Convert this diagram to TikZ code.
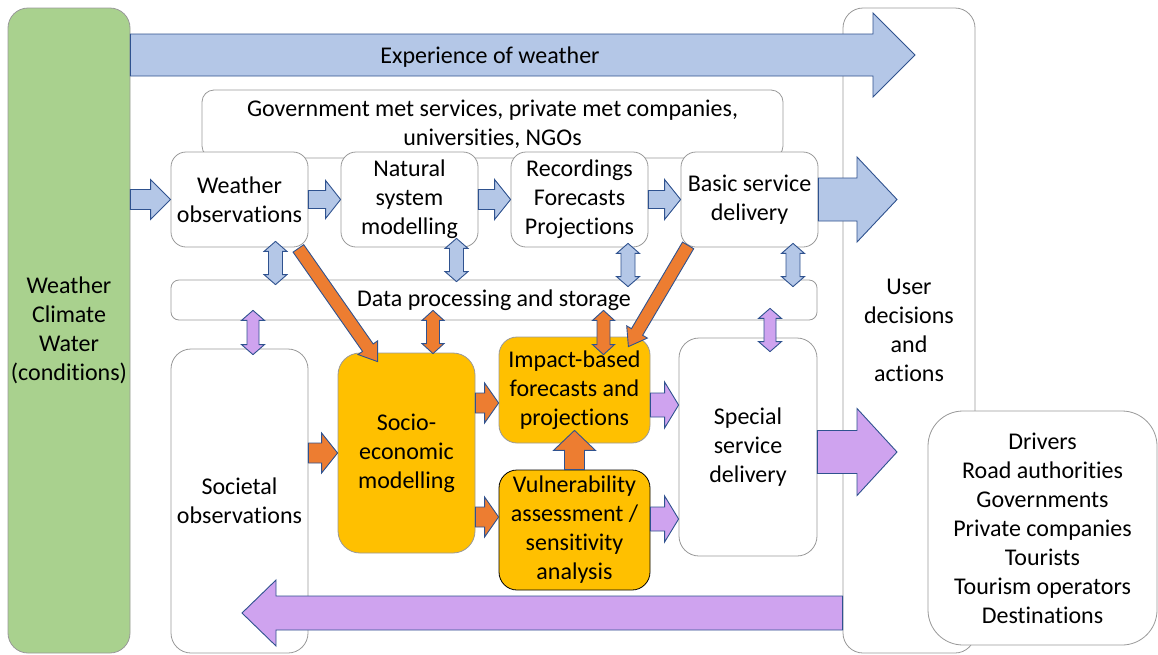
\documentclass[tikz,border=0pt]{standalone}
\usepackage{fontspec}
\setmainfont[Ligatures=NoCommon]{Carlito}
\usepackage{tikz}
\usetikzlibrary{positioning,calc}
\definecolor{wgreen}{HTML}{A9D18E}
\definecolor{bfill}{HTML}{B4C7E7}
\definecolor{ofill}{HTML}{ED7D31}
\definecolor{pfill}{HTML}{CFA3EF}
\definecolor{yfill}{HTML}{FFC000}
\definecolor{aedge}{HTML}{2F528F}
\definecolor{bgray}{HTML}{999999}

\begin{document}
\begin{tikzpicture}[x=1pt, y=-1pt, node distance=170pt, line join=miter,
        font=\fontsize{24}{29}\selectfont,
        box/.style = {draw=bgray, fill=white, line width=0.8pt, align=center, inner sep=0pt,
            rounded corners=15pt, minimum width=137pt, minimum height=95pt},
        hot/.style = {box, fill=yfill},
        sz/.code args = {#1/#2/#3}{\def\aw{#1pt}\def\aW{#2pt}\def\ah{#3pt}},
        blk/.style = {to path={let \p1=(\tikztostart), \p2=(\tikztotarget) in
            ($(\p1)!\aw!90:(\p2)$) -- ($(\p2)!\ah!(\p1)!\aw!-90:(\p1)$)
            -- ($(\p2)!\ah!(\p1)!\aW!-90:(\p1)$) -- (\p2)
            -- ($(\p2)!\ah!(\p1)!\aW!90:(\p1)$) -- ($(\p2)!\ah!(\p1)!\aw!90:(\p1)$)
            -- ($(\p1)!\aw!-90:(\p2)$) -- cycle}},
        dblk/.style = {to path={let \p1=(\tikztostart), \p2=(\tikztotarget) in
            (\p1) -- ($(\p1)!\ah!(\p2)!\aW!-90:(\p2)$) -- ($(\p1)!\ah!(\p2)!\aw!-90:(\p2)$)
            -- ($(\p2)!\ah!(\p1)!\aw!90:(\p1)$) -- ($(\p2)!\ah!(\p1)!\aW!90:(\p1)$)
            -- (\p2) -- ($(\p2)!\ah!(\p1)!\aW!-90:(\p1)$) -- ($(\p2)!\ah!(\p1)!\aw!-90:(\p1)$)
            -- ($(\p1)!\ah!(\p2)!\aw!90:(\p2)$) -- ($(\p1)!\ah!(\p2)!\aW!90:(\p2)$) -- cycle}},
        blu/.style = {fill=bfill, draw=aedge, line width=0.9pt},
        ora/.style = {fill=ofill, draw=aedge, line width=0.9pt},
        pur/.style = {fill=pfill, draw=aedge, line width=0.9pt}]
    \useasboundingbox (0,0) rectangle (1158,654);

    \node[box, minimum width=132pt, minimum height=645pt, rounded corners=20pt] (user) at (909,330.5) {User\\decisions\\and\\actions};
    \node[box, fill=wgreen, minimum width=122pt, minimum height=645pt, rounded corners=20pt] (wcw) at (69,330.5) {Weather\\Climate\\Water\\(conditions)};
    \node[box, minimum width=581pt, minimum height=68pt, rounded corners=12pt] (gov) at (492.5,124) {Government met services, private met companies,\\universities, NGOs};
    \node[box] (obs) at (239.5,199.5) {Weather\\observations};
    \node[box] (nat) [right of=obs] {Natural\\system\\modelling};
    \node[box] (rec) [right of=nat] {Recordings\\Forecasts\\Projections};
    \node[box] (bsd) [right of=rec] {Basic service\\delivery};
    \node[box, minimum width=646pt, minimum height=40pt, rounded corners=8pt] (data) at (494,300) {Data processing and storage};
    \node[box, minimum height=304pt, rounded corners=20pt] (soc) at (239.5,501) {Societal\\observations};
    \node[hot, minimum height=200pt, rounded corners=22pt] (eco) at (406.5,453) {Socio-\\economic\\modelling};
    \node[hot, minimum width=151pt, minimum height=106pt, rounded corners=18pt] (ibf) at (574.5,390) {Impact-based\\forecasts and\\projections};
    \node[hot, draw=black, minimum width=151pt, minimum height=120pt, rounded corners=18pt] (vul) at (574.5,530) {Vulnerability\\assessment /\\sensitivity\\analysis};
    \node[box, minimum width=138pt, minimum height=218pt, rounded corners=20pt] (ssd) at (748,447) {Special\\service\\delivery};
    \node[box, minimum width=229pt, minimum height=234pt, rounded corners=35pt] (drv) at (1042.5,528) {Drivers\\Road authorities\\Governments\\Private companies\\Tourists\\Tourism operators\\Destinations};

    \coordinate (t1) at (915,55);
    \coordinate (t2) at (897,200);
    \coordinate (t3) at (897,452);
    \coordinate (t4) at (242,613);

    \draw[blk, blu, sz=21/42/42] (wcw.east |- t1) to (t1);
    \node (exp) at (490,57) {Experience of weather};
    \draw[blk, blu, sz=10/20/20] (wcw.east |- obs.west) to (obs.west);
    \draw[blk, blu, sz=9/19/15] (obs.east) to (nat.west);
    \draw[blk, blu, sz=10/20/16] (nat.east) to (rec.west);
    \draw[blk, blu, sz=9/20/16] (rec.east) to (bsd.west);
    \draw[blk, blu, sz=21.5/42.5/40] (bsd.east) to (bsd.east -| t2);
    \draw[blk, pur, sz=21.5/43.5/40] (ssd.east |- t3) to (t3);
    \draw[blk, pur, sz=17/33/34] (user.west |- t4) to (t4);

    \draw[dblk, blu, sz=7/11.5/10] ($(obs.south)+(36,-6)$) to ($(obs.south |- data.north)+(36,5)$);
    \draw[dblk, blu, sz=7/11.5/10] ($(nat.south)+(47,-9)$) to ($(nat.south |- data.north)+(47,2)$);
    \draw[dblk, blu, sz=7/11.5/10] ($(rec.south)+(48.5,-4)$) to ($(rec.south |- data.north)+(48.5,7)$);
    \draw[dblk, blu, sz=7/11.5/10] ($(bsd.south)+(43.5,-4)$) to ($(bsd.south |- data.north)+(43.5,7)$);
    \draw[dblk, pur, sz=6/11.5/10] ($(soc.north |- data.south)+(13.5,-10)$) to ($(soc.north)+(13.5,6)$);
    \draw[dblk, pur, sz=6/11.5/10] ($(ssd.north |- data.south)+(22,-12)$) to ($(ssd.north)+(22,14)$);
    \draw[dblk, ora, sz=6.5/11/10] ($(eco.north |- data.south)+(26.5,-10)$) to ($(eco.north)+(26.5,1)$);
    \draw[dblk, ora, sz=6.5/11/10] ($(ibf.north |- data.south)+(29,-10)$) to ($(ibf.north)+(29,18)$);

    \draw[blk, ora, sz=10/20/16] (soc.east |- eco.west) to (eco.west);
    \draw[blk, ora, sz=10/20/14] ($(eco.east |- ibf.west)+(0,13)$) to ($(ibf.west)+(0,13)$);
    \draw[blk, ora, sz=10/20/14] ($(eco.east |- vul.west)+(0,-13)$) to ($(vul.west)+(0,-13)$);
    \draw[blk, ora, sz=10/21/20] (vul.north) to ($(ibf.south)+(0,-13)$);
    \draw[blk, pur, sz=12/23/14] ($(ibf.east)+(0,15)$) to ($(ibf.east -| ssd.west)+(0,15)$);
    \draw[blk, pur, sz=12/23/14] ($(vul.east)+(0,-11)$) to ($(vul.east -| ssd.west)+(0,-11)$);

    \draw[blk, ora, sz=6.5/12/17] ($(obs.south east)+(-10,1)$) to ($(eco.north west)+(40,9)$);
    \draw[blk, ora, sz=6.5/12/17] ($(bsd.south west)+(7.5,-2)$) to ($(ibf.north east)+(-22,10)$);
\end{tikzpicture}
\end{document}
